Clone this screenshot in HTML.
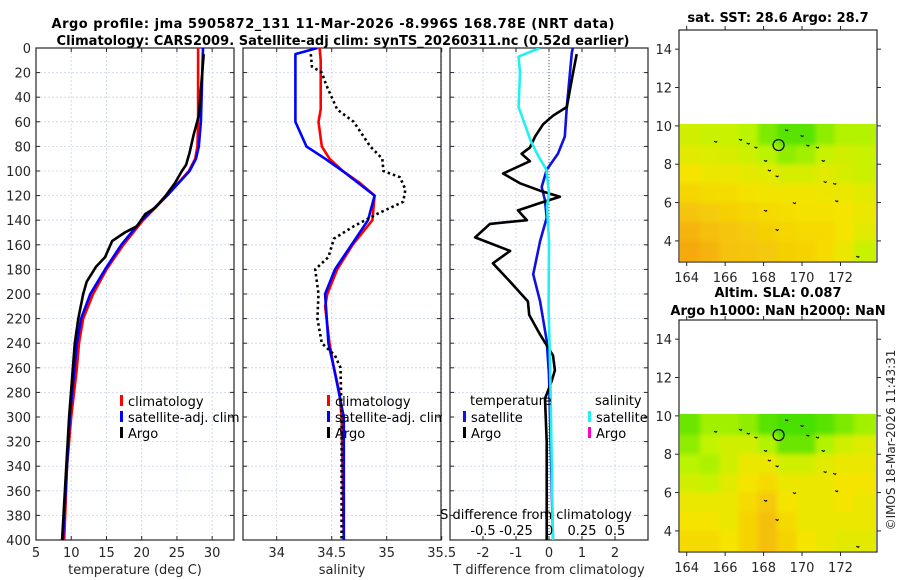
<!DOCTYPE html>
<html><head><meta charset="utf-8"><style>
body{margin:0;background:#fff;}
svg{display:block;font-family:"DejaVu Sans","Liberation Sans",sans-serif;}
</style></head><body>
<svg id="fig" width="900" height="580" viewBox="0 0 900 580" xmlns="http://www.w3.org/2000/svg">
<defs>
<clipPath id="cp1"><rect x="36" y="48" width="198" height="492"/></clipPath>
<clipPath id="cp2"><rect x="243" y="48" width="198" height="492"/></clipPath>
<clipPath id="cp3"><rect x="450" y="48" width="198" height="492"/></clipPath>
<clipPath id="cm1"><rect x="680" y="31" width="196" height="230"/></clipPath>
<clipPath id="cm2"><rect x="680" y="321" width="196" height="230"/></clipPath>
<filter id="blr" x="-5%" y="-5%" width="110%" height="110%"><feGaussianBlur stdDeviation="2.5"/></filter>
</defs>
<text x="333" y="28" text-anchor="middle" font-weight="bold" font-size="13" textLength="563" lengthAdjust="spacing">Argo profile: jma 5905872_131 11-Mar-2026 -8.996S 168.78E (NRT data)</text>
<text x="343" y="45" text-anchor="middle" font-weight="bold" font-size="13" textLength="573" lengthAdjust="spacing">Climatology: CARS2009. Satellite-adj clim: synTS_20260311.nc (0.52d earlier)</text>
<text x="778" y="22" text-anchor="middle" font-weight="bold" font-size="13">sat. SST: 28.6 Argo: 28.7</text>
<text x="778" y="297" text-anchor="middle" font-weight="bold" font-size="13">Altim. SLA: 0.087</text>
<text x="778" y="315" text-anchor="middle" font-weight="bold" font-size="13">Argo h1000: NaN h2000: NaN</text>
<text transform="translate(895,440) rotate(-90)" text-anchor="middle" font-size="12" fill="#262626">©IMOS 18-Mar-2026 11:43:31</text>
<g id="plots"></g>
</svg>
<script>
// ---- data ----
const depthTicks = [0,20,40,60,80,100,120,140,160,180,200,220,240,260,280,300,320,340,360,380,400];
const tempTicks = [5,10,15,20,25,30];
const salTicks = [34,34.5,35,35.5];
const tdiffTicks = [-2,-1,0,1,2];
const sdiffTicks = [-0.5,-0.25,0,0.25,0.5];
const sdiffLabels = ['-0.5','-0.25','0','0.25','0.5'];
const climTempDepth = [0,60,80,90,100,120,140,160,180,200,220,240,260,300,340,400];
const climTemp = [28.0,28.0,27.9,27.6,26.7,23.6,20.2,17.4,15.0,13.1,11.7,11.1,10.8,10.0,9.4,9.0];
const satTempDepth = [0,60,80,90,100,120,140,160,180,200,220,240,300,400];
const satTemp = [28.7,28.4,28.1,27.7,26.8,23.6,20.0,17.1,14.8,12.7,11.4,10.8,9.8,8.8];
const argoTempDepth = [5,55,70,85,95,100,110,120,130,135,145,150,157,170,178,190,200,220,240,300,400];
const argoTemp = [28.8,28.1,27.4,26.8,26.3,25.7,24.7,23.4,21.9,20.5,19.3,17.6,15.8,14.8,13.5,12.2,11.7,11.0,10.5,9.7,8.7];
const climSalDepth = [0,10,50,60,80,90,100,110,120,140,160,180,200,210,240,260,280,300,400];
const climSal = [34.39,34.40,34.40,34.38,34.41,34.48,34.60,34.76,34.89,34.87,34.69,34.55,34.46,34.44,34.48,34.52,34.57,34.59,34.61];
const satSalDepth = [0,5,20,60,80,90,100,120,140,160,180,200,240,260,300,400];
const satSal = [34.37,34.17,34.17,34.17,34.27,34.44,34.60,34.89,34.83,34.68,34.53,34.44,34.47,34.52,34.61,34.61];
const argoSalDepth = [5,15,20,30,50,60,80,90,100,105,115,125,135,145,155,170,180,200,220,240,250,260,300,400];
const argoSal = [34.31,34.32,34.41,34.45,34.55,34.70,34.85,34.96,34.97,35.12,35.17,35.15,34.91,34.70,34.52,34.47,34.35,34.38,34.37,34.41,34.53,34.58,34.59,34.59];
const satTdiffDepth = [0,4,48,72,86,99,113,124,138,157,184,206,238,266,400];
const satTdiff = [0.72,0.69,0.54,0.48,0.27,-0.07,-0.22,-0.12,-0.07,-0.27,-0.48,-0.27,-0.07,0.0,0.12];
const satSdiffDepth = [0,7,20,48,75,86,99,118,129,157,211,266,400];
const satSdiff = [-0.07,-0.23,-0.22,-0.23,-0.14,-0.09,-0.02,0.0,-0.015,0.0,-0.003,0.01,0.03];
const argoTdiffDepth = [5,20,48,55,62,72,81,86,92,102,110,116,121,126,132,140,143,154,165,175,190,206,217,233,250,262,271,285,320,400];
const argoTdiff = [0.84,0.73,0.54,0.12,-0.18,-0.42,-0.58,-0.83,-0.58,-1.39,-0.88,-0.27,0.33,-0.27,-0.94,-0.67,-1.79,-2.24,-1.18,-1.7,-1.18,-0.64,-0.6,-0.27,0.12,0.18,0.08,-0.12,-0.07,-0.07];
const mapLonTicks = [164,166,168,170,172];
const mapLatTicks = [4,6,8,10,12,14];
const gridLons = [163.7,164.7,165.7,166.7,167.7,168.7,169.7,170.7,171.7,172.7];
const gridLats = [10.1,9,8,7,6,5,4];
const sstGrid = [
[0.42,0.38,0.38,0.32,0.15,0.05,0.05,0.2,0.3,0.3],
[0.5,0.48,0.45,0.4,0.32,0.2,0.25,0.38,0.42,0.38],
[0.6,0.56,0.55,0.52,0.5,0.45,0.45,0.5,0.45,0.4],
[0.68,0.66,0.65,0.62,0.58,0.58,0.58,0.56,0.55,0.5],
[0.78,0.74,0.72,0.68,0.66,0.64,0.62,0.62,0.6,0.55],
[0.88,0.82,0.78,0.74,0.72,0.68,0.66,0.66,0.6,0.5],
[0.95,0.88,0.8,0.78,0.76,0.72,0.7,0.65,0.55,0.38]];
const slaGrid = [
[0.1,0.25,0.25,0.2,0.05,0.0,0.0,0.05,0.15,0.25],
[0.2,0.35,0.42,0.42,0.3,0.1,0.1,0.3,0.42,0.48],
[0.32,0.28,0.42,0.55,0.55,0.42,0.42,0.5,0.55,0.55],
[0.42,0.38,0.5,0.6,0.66,0.55,0.55,0.55,0.6,0.6],
[0.55,0.55,0.55,0.66,0.76,0.6,0.55,0.55,0.6,0.55],
[0.6,0.6,0.55,0.7,0.82,0.66,0.55,0.55,0.55,0.55],
[0.66,0.66,0.6,0.7,0.82,0.7,0.6,0.55,0.5,0.5]];
const islandLon = [165.5,166.8,167.2,167.6,168.1,168.3,168.7,169.2,169.6,170.0,170.3,170.8,171.1,171.2,171.7,171.8,168.1,168.7,172.9];
const islandLat = [9.2,9.3,9.1,8.9,8.2,7.7,7.4,9.8,6.0,9.5,9.0,8.9,8.2,7.1,7.0,6.1,5.6,4.6,3.2];
const floatLon = 168.78, floatLat = 9.0;

// ---- helpers ----
const NS='http://www.w3.org/2000/svg';
const root=document.getElementById('plots');
function mk(tag,attrs,parent){const e=document.createElementNS(NS,tag);for(const k in attrs)e.setAttribute(k,attrs[k]);(parent||root).appendChild(e);return e;}
const Y0=48,Y1=540;
function yD(d){return Y0+d*(Y1-Y0)/400;}
function lin(a,b,p,q){return v=>p+(v-a)*(q-p)/(b-a);}
const txtCol='#262626';

function panelFrame(x0,x1,xs,ticks,labels,name,showY){
  const g=mk('g',{});
  
  
  depthTicks.forEach(d=>{
    mk('line',{x1:x0,x2:x1,y1:yD(d),y2:yD(d),stroke:'#c9d3ec','stroke-width':0.8,'stroke-dasharray':'2,2'},g);
    mk('line',{x1:x0,x2:x0+4,y1:yD(d),y2:yD(d),stroke:'#262626'},g);
    mk('line',{x1:x1-4,x2:x1,y1:yD(d),y2:yD(d),stroke:'#262626'},g);
    if(showY){const t=mk('text',{x:x0-5,y:yD(d)+5,'text-anchor':'end','font-size':13,fill:txtCol},g);t.textContent=d;}
  });
  ticks.forEach((v,i)=>{
    const x=xs(v);
    mk('line',{x1:x,x2:x,y1:Y0,y2:Y1,stroke:'#c9d3ec','stroke-width':0.8,'stroke-dasharray':'2,2'},g);
    mk('line',{x1:x,x2:x,y1:Y1,y2:Y1-4,stroke:'#262626'},g);
    mk('line',{x1:x,x2:x,y1:Y0,y2:Y0+4,stroke:'#262626'},g);
    if(labels){const t=mk('text',{x:x,y:557,'text-anchor':'middle','font-size':13,fill:txtCol},g);t.textContent=labels[i];}
  });
  mk('rect',{x:x0,y:Y0,width:x1-x0,height:Y1-Y0,fill:'none',stroke:'#262626','stroke-width':1.2},g);
  return g;
}
function series(dep,val,xs,color,clip,name,extra){
  const pts=dep.map((d,i)=>xs(val[i]).toFixed(1)+','+yD(d).toFixed(1)).join(' ');
  const a={points:pts,fill:'none',stroke:color,'stroke-width':2.6,'stroke-linejoin':'round','clip-path':'url(#'+clip+')'};
  if(extra)Object.assign(a,extra);
  const p=mk('polyline',a);
  
  
}
function legendItem(x,y,color,label,name){
  const g=mk('g',{});
  
  
  mk('rect',{x:x,y:y-11,width:3,height:11,fill:color},g);
  const t=mk('text',{x:x+8,y:y,'font-size':13,fill:'#000'},g);t.textContent=label;
}

// ---- panel 1: temperature ----
const xT=lin(5,33.1,36,234);
panelFrame(36,234,xT,tempTicks,tempTicks.map(String),'temperature-panel',true);
series(climTempDepth,climTemp,xT,'#ff0000','cp1','climatology-temperature-line');
series(satTempDepth,satTemp,xT,'#0000ff','cp1','satellite-temperature-line');
series(argoTempDepth,argoTemp,xT,'#000000','cp1','argo-temperature-line');
let t=mk('text',{x:135,y:574,'text-anchor':'middle','font-size':13,fill:txtCol});t.textContent='temperature (deg C)';

legendItem(120,406,'#ff0000','climatology','legend-climatology');
legendItem(120,422,'#0000ff','satellite-adj. clim','legend-satellite-adj');
legendItem(120,438,'#000000','Argo','legend-argo');

// ---- panel 2: salinity ----
const xS=lin(34,35.5,276.7,441.7);
panelFrame(243,441,xS,salTicks,salTicks.map(String),'salinity-panel',false);
series(climSalDepth,climSal,xS,'#ff0000','cp2','climatology-salinity-line');
series(satSalDepth,satSal,xS,'#0000ff','cp2','satellite-salinity-line');
series(argoSalDepth,argoSal,xS,'#000000','cp2','argo-salinity-line',{'stroke-dasharray':'2.5,3','stroke-linecap':'butt'});
t=mk('text',{x:342,y:574,'text-anchor':'middle','font-size':13,fill:txtCol});t.textContent='salinity';

legendItem(327,406,'#ff0000','climatology','legend-climatology-2');
legendItem(327,422,'#0000ff','satellite-adj. clim','legend-satellite-adj-2');
legendItem(327,438,'#000000','Argo','legend-argo-2');
mk('rect',{x:442,y:410,width:7,height:16,fill:'#fff'});

// ---- panel 3: differences ----
const xTd=lin(-3,3,450,648);
const xSd=lin(-0.75,0.75,450,648);
panelFrame(450,648,xTd,tdiffTicks,tdiffTicks.map(String),'difference-panel',false);
mk('line',{x1:xTd(0),x2:xTd(0),y1:Y0,y2:Y1,stroke:'#555','stroke-width':1,'stroke-dasharray':'1,2'});
series(satTdiffDepth,satTdiff,xTd,'#1010e0','cp3','satellite-temperature-difference-line');
series(argoTdiffDepth,argoTdiff,xTd,'#000000','cp3','argo-temperature-difference-line');
series(satSdiffDepth,satSdiff,xSd,'#20f0f0','cp3','satellite-salinity-difference-line');
t=mk('text',{x:536,y:519,'text-anchor':'middle','font-size':13,fill:'#000'});t.textContent='S difference from climatology';

sdiffTicks.forEach((v,i)=>{const e=mk('text',{x:xSd(v),y:535,'text-anchor':'middle','font-size':13,fill:'#000'});e.textContent=sdiffLabels[i];
 });
t=mk('text',{x:549,y:574,'text-anchor':'middle','font-size':13,fill:txtCol});t.textContent='T difference from climatology';

t=mk('text',{x:470,y:405,'font-size':13,fill:'#000'});t.textContent='temperature';

t=mk('text',{x:595,y:405,'font-size':13,fill:'#000'});t.textContent='salinity';

legendItem(463,422,'#1010e0','satellite','legend-t-satellite');
legendItem(463,438,'#000000','Argo','legend-t-argo');
legendItem(588,422,'#20f0f0','satellite','legend-s-satellite');
legendItem(588,438,'#ff00cc','Argo','legend-s-argo');

// ---- maps ----
function cmap(v){
  const stops=[[0,[70,224,0]],[0.33,[190,245,0]],[0.6,[245,228,0]],[1,[245,160,20]]];
  for(let i=1;i<stops.length;i++){if(v<=stops[i][0]){const a=stops[i-1],b=stops[i];const f=(v-a[0])/(b[0]-a[0]);
    return 'rgb('+a[1].map((c,k)=>Math.round(c+(b[1][k]-c)*f)).join(',')+')';}}
  return 'rgb(245,160,20)';
}
function drawMap(top,grid,clip,name){
  const x0=679,x1=877,y0=top,y1=top+232;
  const xm=lin(163.6,173.9,x0,x1), ym=lin(15,2.9,y0,y1);
  const g=mk('g',{});
  
  
  const hg=mk('g',{'clip-path':'url(#'+clip+')'},g);
  const hb=mk('g',{filter:'url(#blr)'},hg);
  grid.forEach((row,r)=>row.forEach((v,c)=>{
    const la=gridLats[r]+(r===0?0.4:0), lb=r+1<gridLats.length?gridLats[r+1]:2.9;
    const lo=gridLons[c], lo2=c+1<gridLons.length?gridLons[c+1]:173.9;
    const xa=xm(lo)-(c===0?6:0), xb=xm(lo2)+(c===row.length-1?6:0);
    const ya=ym(la), yb=ym(lb)+(r===grid.length-1?6:0);
    const cell=mk('rect',{x:xa,y:ya,width:xb-xa+0.5,height:yb-ya+0.5,fill:cmap(v)},hb);
    
    
  }));
  mk('rect',{x:x0,y:y0,width:x1-x0,height:ym(10.1)-y0,fill:'#fff'},hg);
  islandLon.forEach((lo,i)=>{
    const isl=mk('path',{d:'M'+(xm(lo)-1.5)+','+ym(islandLat[i])+' l2,1 l1,-1',stroke:'#000','stroke-width':1.1,fill:'none'},g);
    
    
  });
  const c=mk('circle',{cx:xm(floatLon),cy:ym(floatLat),r:5.5,fill:'none',stroke:'#000','stroke-width':1.2},g);
  
  
  mapLonTicks.forEach(v=>{const x=xm(v);
    mk('line',{x1:x,x2:x,y1:y1,y2:y1+4,stroke:'#262626'},g);
    mk('line',{x1:x,x2:x,y1:y0,y2:y0-4,stroke:'#262626'},g);
    const e=mk('text',{x:x,y:y1+20,'text-anchor':'middle','font-size':13,fill:txtCol},g);e.textContent=v;});
  mapLatTicks.forEach(v=>{const y=ym(v);
    mk('line',{x1:x0,x2:x0-4,y1:y,y2:y,stroke:'#262626'},g);
    mk('line',{x1:x1,x2:x1+4,y1:y,y2:y,stroke:'#262626'},g);
    const e=mk('text',{x:x0-7,y:y+5,'text-anchor':'end','font-size':13,fill:txtCol},g);e.textContent=v;});
  mk('rect',{x:x0,y:y0,width:x1-x0,height:y1-y0,fill:'none',stroke:'#262626','stroke-width':1.2},g);
}
drawMap(30,sstGrid,'cm1','sst-map');
drawMap(320,slaGrid,'cm2','sla-map');
</script>
</body></html>
